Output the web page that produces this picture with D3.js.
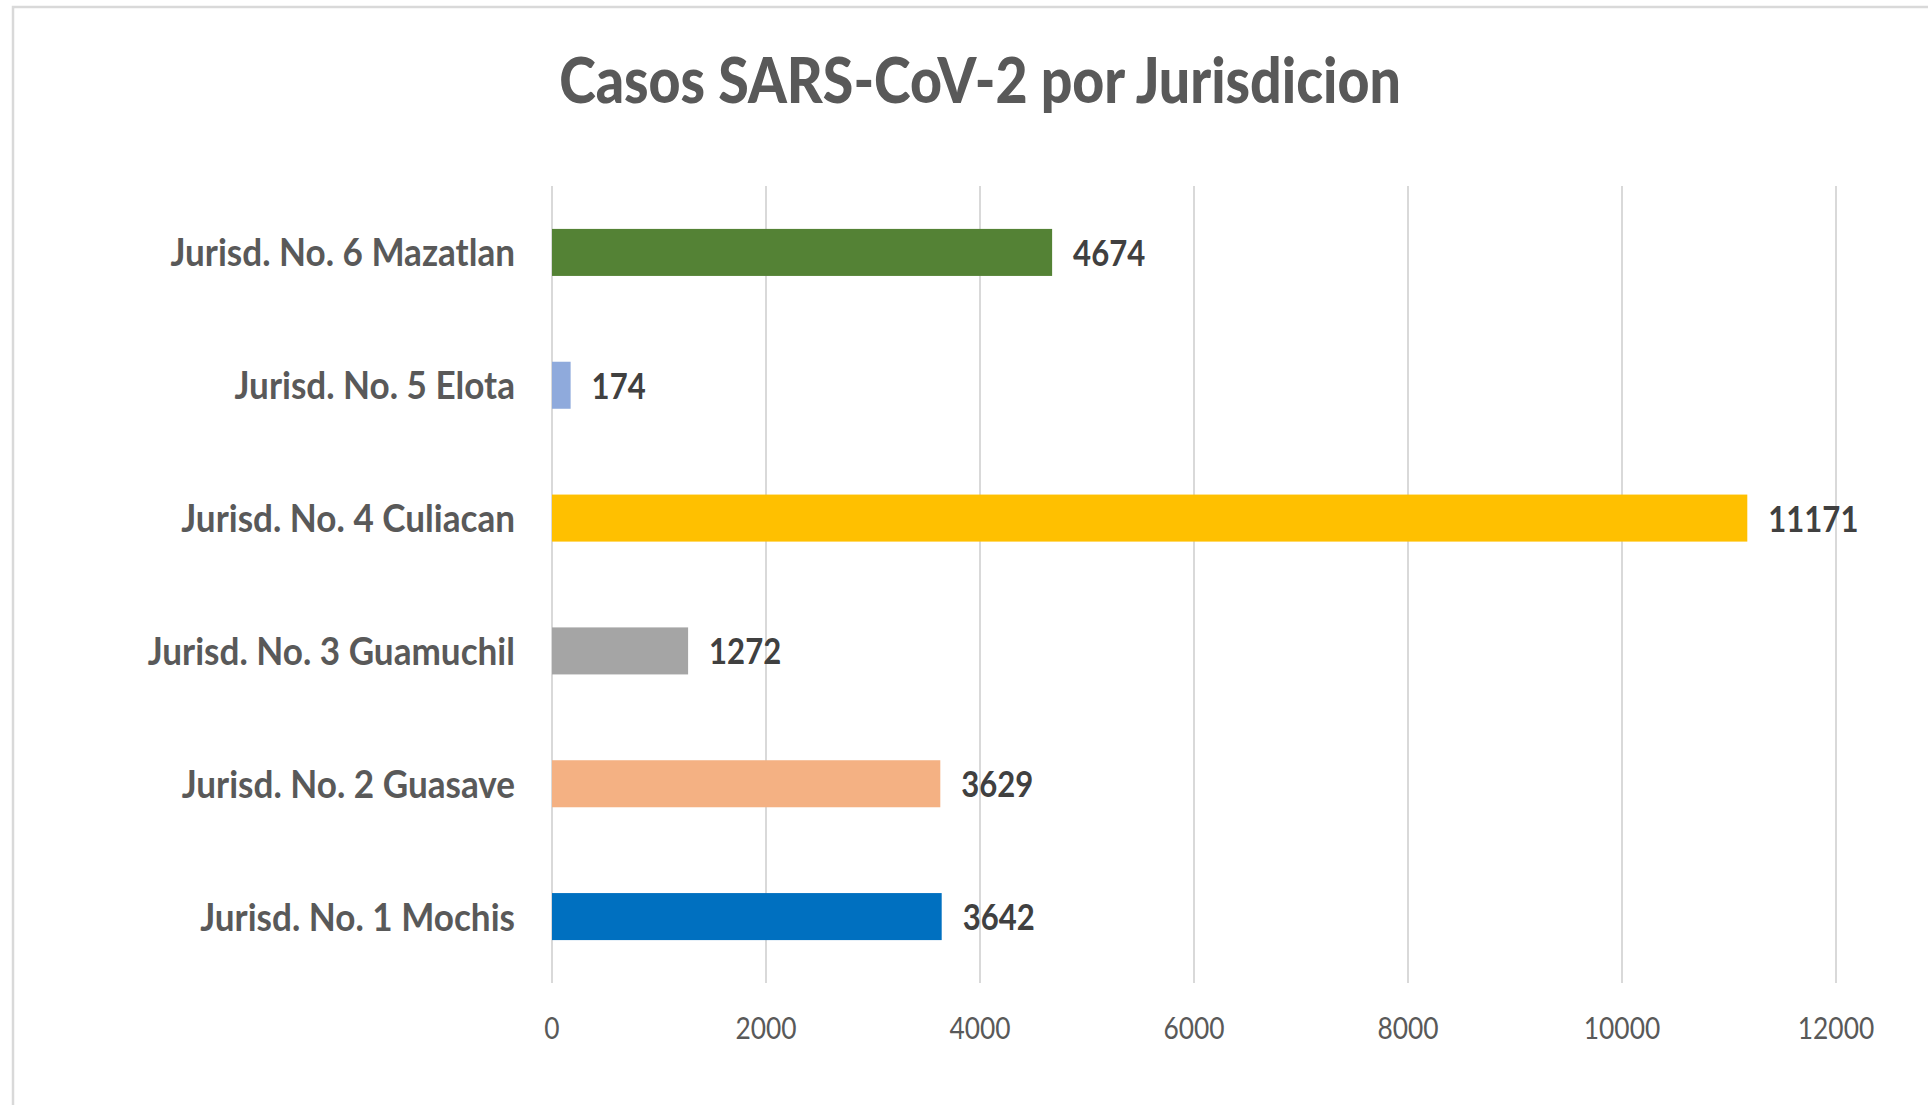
<!DOCTYPE html>
<html>
<head>
<meta charset="utf-8">
<script src="https://cdn.jsdelivr.net/npm/d3@7"></script>
<style>
  body { margin: 0; background: #fff; }
  text { font-family: Lato, "Open Sans", sans-serif; }
</style>
</head>
<body>
<div id="chart"></div>
<script>
// data
const categories = ["Jurisd. No. 1 Mochis", "Jurisd. No. 2 Guasave", "Jurisd. No. 3 Guamuchil",
                    "Jurisd. No. 4 Culiacan", "Jurisd. No. 5 Elota", "Jurisd. No. 6 Mazatlan"]
const values = [3642, 3629, 1272, 11171, 174, 4674]
const barColors = ["#0070C0", "#F4B183", "#A5A5A5", "#FFC000", "#8FAADC", "#548235"]
const xTicks = [0, 2000, 4000, 6000, 8000, 10000, 12000]
const title = "Casos SARS-CoV-2 por Jurisdicion"

const W = 1928, H = 1105
// plot area
let plot = { left: 552, right: 1836, top: 186, bottom: 983 }

const svg = d3.select("#chart").append("svg")
  .attr("width", W).attr("height", H)

// chart border (only top/left visible in the picture)
svg.append("rect")
  .attr("x", 13).attr("y", 7)
  .attr("width", 2400).attr("height", 2400)
  .attr("fill", "none").attr("stroke", "#d9d9d9").attr("stroke-width", 2.5)

const x = d3.scaleLinear().domain([0, 12000]).range([plot.left, plot.right])
const y = d3.scaleBand()
  .domain(categories.slice().reverse())
  .range([plot.top, plot.bottom])
  .paddingInner(0.646).paddingOuter(0.323)
const color = d3.scaleOrdinal().domain(categories).range(barColors)

//text squeezed horizontally like the original
function addText(g, tx, ty, sx, str) {
  return g.append("text")
    .attr("transform", "translate(" + tx + "," + ty + ") scale(" + sx + ",1)")
    .text(str)
}

// grid lines
svg.append("g").selectAll("line")
  .data(xTicks).join("line")
  .attr("x1", d => x(d)).attr("x2", d => x(d))
  .attr("y1", plot.top).attr("y2", plot.bottom)
  .attr("stroke", "#d9d9d9").attr("stroke-width", 2)

// tick labels
let tickG = svg.append("g")
  .attr("font-size", 31).attr("fill", "#595959").attr("text-anchor", "middle")
xTicks.forEach(t => addText(tickG, x(t), 1039, 0.85, t))

// bars
svg.append("g").selectAll("rect")
  .data(categories).join("rect")
  .attr("x", x(0))
  .attr("y", d => y(d))
  .attr("width", (d, i) => x(values[i]) - x(0))
  .attr("height", y.bandwidth())
  .attr("fill", d => color(d))

// category labels
let catG = svg.append("g")
  .attr("font-size", 39).attr("font-weight", "bold").attr("fill", "#595959").attr("text-anchor", "end")
categories.forEach(c => addText(catG, 515, y(c) + y.bandwidth() / 2 + 14, 0.9, c))

// value labels
let valG = svg.append("g")
  .attr("font-size", 37).attr("font-weight", "bold").attr("fill", "#404040")
categories.forEach((c, i) => addText(valG, x(values[i]) + 21, y(c) + y.bandwidth() / 2 + 13.5, 0.84, values[i]))

// title
let titleG = svg.append("g")
  .attr("font-size", 63).attr("font-weight", "900").attr("fill", "#595959").attr("text-anchor", "middle")
addText(titleG, 980, 103, 0.88, title)
</script>
</body>
</html>
